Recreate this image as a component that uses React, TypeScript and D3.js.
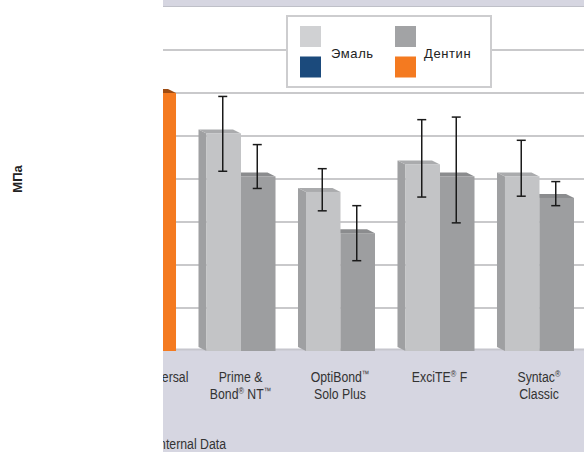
import React from 'react';
import * as d3 from 'd3';

const categories = ['Adper™ Universal', 'Prime & Bond® NT™', 'OptiBond™ Solo Plus', 'ExciTE® F', 'Syntac® Classic'];
const labelLines = [['Adper™ Universal'], ['Prime &', 'Bond® NT™'], ['OptiBond™', 'Solo Plus'], ['ExciTE® F'], ['Syntac®', 'Classic']];
const series = ['Эмаль', 'Дентин'];
const enamel = [32, 25.3, 18.5, 21.7, 20.3];
const enamelLow = [28, 20.9, 16.3, 17.9, 18.0];
const enamelHigh = [36, 29.6, 21.2, 26.9, 24.5];
const dentin = [30, 20.3, 13.7, 20.3, 17.8];
const dentinLow = [26, 18.9, 10.5, 14.9, 16.9];
const dentinHigh = [34, 24.0, 16.9, 27.2, 19.7];
const yTicks = [0, 5, 10, 15, 20, 25, 30, 35, 40];
const yUnit = 'МПа';
const sourceNote = 'Internal Data';

const W = 584;
const H = 452;
const floorY = 351;
const DX = 8;
const DY = 4;

const greyLight = { front: '#c3c4c6', side: '#9fa0a2', top: '#aaabad' };
const greyDark = { front: '#9d9ea0', side: '#86878a', top: '#8b8c8e' };
const navy = { front: '#1b4a7c', side: '#12355a', top: '#143b63' };
const orange = { front: '#f47a20', side: '#b85810', top: '#9e4c12' };

const baseFont = "'Liberation Sans', Arial, sans-serif";

function Bar3D({ x, w, yT, colors }: { x: number; w: number; yT: number; colors: any }) {
  const side = [[x - DX, yT - DY], [x, yT], [x, floorY], [x - DX, floorY - DY]];
  const top = [[x - DX, yT - DY], [x - DX + w, yT - DY], [x + w, yT], [x, yT]];
  const pts = (p: number[][]) => p.map((q) => q.join(',')).join(' ');
  return (
    <g>
      <polygon points={pts(side)} fill={colors.side} />
      <polygon points={pts(top)} fill={colors.top} />
      <rect x={x} y={yT} width={w} height={floorY - yT} fill={colors.front} />
    </g>
  );
}

function ErrBar({ cx, y1, y2 }: { cx: number; y1: number; y2: number }) {
  return (
    <g stroke="#1a1a1a" strokeWidth={1.5}>
      <line x1={cx} x2={cx} y1={y1} y2={y2} />
      <line x1={cx - 4.5} x2={cx + 4.5} y1={y1} y2={y1} />
      <line x1={cx - 4.5} x2={cx + 4.5} y1={y2} y2={y2} />
    </g>
  );
}

function Label({ cx, y, text, anchor = 'middle' }: { cx: number; y: number; text: string; anchor?: string }) {
  const parts = text.split(/([®™])/).filter((p) => p.length > 0);
  let shifted = false;
  return (
    <text
      transform={`translate(${cx},${y}) scale(0.83,1)`}
      x={0}
      y={0}
      textAnchor={anchor}
      fontFamily={baseFont}
      fontSize={14.8}
      fill="#333"
    >
      {parts.map((p, k) => {
        if (p === '®' || p === '™') {
          shifted = true;
          return (
            <tspan key={k} fontSize={9} dy={-5}>{p}</tspan>
          );
        }
        const dy = shifted ? 5 : 0;
        shifted = false;
        return (
          <tspan key={k} dy={dy}>{p}</tspan>
        );
      })}
    </text>
  );
}

export default function App() {
  const x0 = d3.scaleBand<string>().domain(categories).range([99, 574]).paddingInner(0.226).paddingOuter(0);
  const x1 = d3.scaleBand<string>().domain(series).range([DX, x0.bandwidth()]).padding(0);
  const y = d3.scaleLinear().domain([0, 40]).range([floorY, 7]);
  const bw = x1.bandwidth();

  return (
    <div style={{ position: 'absolute', left: 0, top: 0 }}>
      <svg width={W} height={H} viewBox={`0 0 ${W} ${H}`} style={{ display: 'block' }}>
        <rect x={0} y={0} width={W} height={H} fill="#ffffff" />
        {/* top band */}
        <rect x={0} y={0} width={W} height={y(40)} fill="#d6d6e1" />
        <line x1={0} x2={W} y1={y(40) - 0.5} y2={y(40) - 0.5} stroke="#bfc0c8" strokeWidth={1.2} />
        {/* gridlines */}
        {yTicks.filter((t) => t > 0 && t < 40).map((t) => (
          <line key={t} x1={0} x2={W} y1={y(t)} y2={y(t)} stroke="#c9c9cb" strokeWidth={2} />
        ))}
        {/* floor */}
        <rect x={0} y={floorY - 1.5} width={W} height={H - floorY + 1.5} fill="#d6d6e1" />
        <line x1={0} x2={W} y1={floorY - 1.5} y2={floorY - 1.5} stroke="#c6c6cd" strokeWidth={2} />
        {/* bars */}
        {categories.map((c, i) => {
          const gx = x0(c)!;
          const xe = gx + x1('Эмаль')!;
          const xd = gx + x1('Дентин')!;
          const ce = i === 0 ? navy : greyLight;
          const cd = i === 0 ? orange : greyDark;
          return (
            <g key={c}>
              <Bar3D x={xd} w={bw} yT={y(dentin[i])} colors={cd} />
              <Bar3D x={xe} w={bw} yT={y(enamel[i])} colors={ce} />
              <ErrBar cx={xe + bw / 2 - 1} y1={y(enamelHigh[i])} y2={y(enamelLow[i])} />
              <ErrBar cx={xd + bw / 2 - 1} y1={y(dentinHigh[i])} y2={y(dentinLow[i])} />
            </g>
          );
        })}
        {/* category labels */}
        {categories.map((c, i) => (
          <g key={c}>
            {labelLines[i].map((l, j) => (
              <Label key={j} cx={x0(c)! + 42} y={381.5 + j * 17.5} text={l} />
            ))}
          </g>
        ))}
        <Label cx={226} y={449} text={sourceNote} anchor="end" />
        {/* legend */}
        <g>
          <rect x={287} y={16} width={204} height={71} fill="#ffffff" stroke="#cdcdcf" strokeWidth={2} />
          <rect x={300} y={26} width={21} height={21} fill="#d0d1d3" />
          <rect x={300} y={56.5} width={21} height={21} fill={navy.front} />
          <text x={331} y={58} fontFamily={baseFont} fontSize={13} letterSpacing={0.6} fill="#222">{series[0]}</text>
          <rect x={395} y={26} width={21} height={21} fill="#a2a3a5" />
          <rect x={395} y={56.5} width={21} height={21} fill={orange.front} />
          <text x={424} y={58} fontFamily={baseFont} fontSize={13} letterSpacing={0.6} fill="#222">{series[1]}</text>
        </g>
        {/* white overlay on left */}
        <rect x={0} y={0} width={163} height={H} fill="#ffffff" />
        <text transform="translate(22,179) rotate(-90)" textAnchor="middle" fontFamily={baseFont} fontWeight="bold" fontSize={13} fill="#222">{yUnit}</text>
      </svg>
    </div>
  );
}
